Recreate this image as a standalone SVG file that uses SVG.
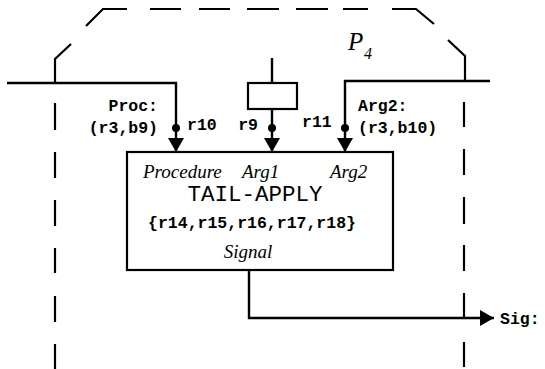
<svg xmlns="http://www.w3.org/2000/svg" width="545" height="369" viewBox="0 0 545 369">
<defs>
<style>
.ln{fill:none;stroke:#000;stroke-width:2.4;stroke-linecap:butt;stroke-linejoin:miter}
.dl{fill:none;stroke:#000;stroke-width:2.2}
.tt{font-family:"Liberation Mono",monospace;font-weight:bold;font-size:16.5px;fill:#000}
.big{font-family:"Liberation Mono",monospace;font-size:22.5px;fill:#000}
.it{font-family:"Liberation Serif",serif;font-style:italic;font-size:19px;fill:#000}
</style>
<marker id="ah" viewBox="0 0 14 16" refX="14" refY="8" markerWidth="14" markerHeight="16" markerUnits="userSpaceOnUse" orient="auto">
<path d="M0,0 L14,8 L0,16 Z" fill="#000"/>
</marker>
</defs>
<g id="boundary">
<path class="dl" d="M55,83 V59 L71,44"/>
<path class="dl" d="M86,26 L103,9 H127"/>
<path class="dl" d="M150,9 H181 M199,9 H230 M247,9 H279 M296,9 H328 M343,9 H368"/>
<path class="dl" d="M392,9 H416 L434,24"/>
<path class="dl" d="M448,40 L465,56 V81"/>
<path class="dl" d="M55,103 V130 M55,152 V178 M55,200 V226 M55,248 V273 M55,296 V322 M55,344 V369"/>
<path class="dl" d="M464,102 V127 M464,149 V175 M464,197 V224 M464,245 V271 M464,293 V318 M464,342 V367"/>
<text x="348" y="50" font-family="Liberation Serif, serif" font-style="italic" font-size="25">P</text>
<text x="364" y="59" font-family="Liberation Serif, serif" font-style="italic" font-size="16">4</text>
</g>
<g id="connectors">
<path class="ln" d="M7,83 H176 V152" marker-end="url(#ah)"/>
<path class="ln" d="M272,58 V83"/>
<path class="ln" d="M272,109 V152" marker-end="url(#ah)"/>
<path class="ln" d="M490,81 H345 V152" marker-end="url(#ah)"/>
<circle cx="176" cy="128" r="4"/>
<circle cx="272" cy="128" r="4"/>
<circle cx="345" cy="128" r="4"/>
<path class="ln" d="M249,270 V318 H494" marker-end="url(#ah)"/>
</g>
<g id="const">
<rect x="248" y="83" width="49" height="26" fill="#fff" stroke="#000" stroke-width="2.2"/>
</g>
<g id="labels">
<text class="tt" x="158" y="111" text-anchor="end">Proc:</text>
<text class="tt" x="158" y="133" text-anchor="end">(r3,b9)</text>
<text class="tt" x="187" y="130">r10</text>
<text class="tt" x="258" y="130" text-anchor="end">r9</text>
<text class="tt" x="302" y="127">r11</text>
<text class="tt" x="358" y="111">Arg2:</text>
<text class="tt" x="358" y="133">(r3,b10)</text>
<text class="tt" x="500" y="324">Sig:</text>
</g>
<g id="tail-apply">
<rect x="127" y="152" width="266" height="118" fill="none" stroke="#000" stroke-width="2.2"/>
<text class="it" x="143" y="178">Procedure</text>
<text class="it" x="242" y="178">Arg1</text>
<text class="it" x="330" y="178">Arg2</text>
<text class="big" x="255" y="201" text-anchor="middle">TAIL-APPLY</text>
<text class="tt" x="252" y="228" text-anchor="middle" font-size="18">{r14,r15,r16,r17,r18}</text>
<text class="it" x="248" y="258" text-anchor="middle">Signal</text>
</g>
</svg>
